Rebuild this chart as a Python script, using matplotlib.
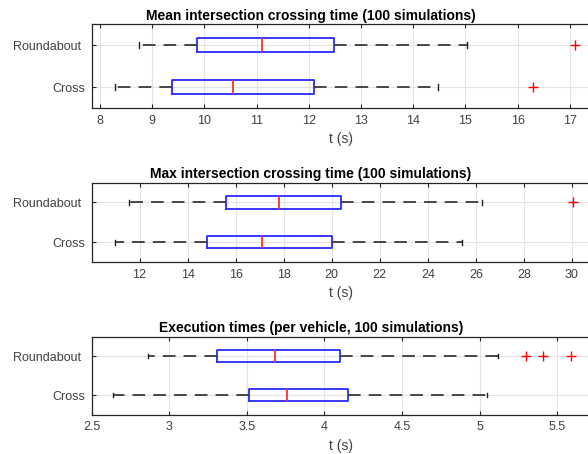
import matplotlib
matplotlib.use('Agg')  # no display
import matplotlib.pyplot as plt

plt.rcParams['font.family'] = ['Liberation Sans', 'DejaVu Sans']

LABELS = ['Cross', 'Roundabout ']

# five-number summaries: [whisker low, q1, median, q3, whisker high]
MEAN_CROSS = [8.29, 9.39, 10.55, 12.10, 14.48]
MEAN_ROUND = [8.74, 9.86, 11.10, 12.49, 15.03]
MEAN_OUT_CROSS = [16.30]
MEAN_OUT_ROUND = [17.09]

MAX_CROSS = [10.99, 14.79, 17.08, 20.00, 25.43]
MAX_ROUND = [11.58, 15.61, 17.81, 20.40, 26.27]
MAX_OUT_CROSS = []
MAX_OUT_ROUND = [30.05]

EXEC_CROSS = [2.64, 3.515, 3.76, 4.15, 5.05]
EXEC_ROUND = [2.865, 3.31, 3.68, 4.10, 5.12]
EXEC_OUT_CROSS = []
EXEC_OUT_ROUND = [5.30, 5.41, 5.59]

TITLES = ['Mean intersection crossing time (100 simulations)',
          'Max intersection crossing time (100 simulations)',
          'Execution times (per vehicle, 100 simulations)']
XLIMS = [(7.84, 17.5), (10, 31), (2.5, 5.75)]
XTICKS = [list(range(8, 18)), list(range(12, 31, 2)),
          [2.5, 3, 3.5, 4, 4.5, 5, 5.5]]
XTICKLABELS = [[str(t) for t in XTICKS[0]], [str(t) for t in XTICKS[1]],
               ['2.5', '3', '3.5', '4', '4.5', '5', '5.5']]

PANELS = [
    (MEAN_CROSS, MEAN_ROUND, MEAN_OUT_CROSS, MEAN_OUT_ROUND),
    (MAX_CROSS, MAX_ROUND, MAX_OUT_CROSS, MAX_OUT_ROUND),
    (EXEC_CROSS, EXEC_ROUND, EXEC_OUT_CROSS, EXEC_OUT_ROUND),
]

# axes boxes in pixels (left, top, right, bottom); right edge runs past the image
W, H = 588, 454
BOXES = [(91.5, 24.0, 596, 108.0), (91.5, 182.5, 596, 262.0), (91.5, 336.6, 596, 414.5)]

TXT = '#404040'


def make_stats(five, fliers, label):
    lo, q1, med, q3, hi = five
    return dict(whislo=lo, q1=q1, med=med, q3=q3, whishi=hi,
                fliers=fliers, label=label)


fig = plt.figure(figsize=(W / 100, H / 100), dpi=100)

for i, (cross, rnd, out_c, out_r) in enumerate(PANELS):
    l, t, r, b = BOXES[i]
    ax = fig.add_axes([l / W, 1 - b / H, (r - l) / W, (b - t) / H])
    stats = [make_stats(cross, out_c, LABELS[0]), make_stats(rnd, out_r, LABELS[1])]
    ax.bxp(stats, positions=[1, 2], orientation='horizontal', widths=0.32,
           capwidths=0.12, showfliers=True,
           boxprops=dict(color='#2a2aff', linewidth=1.3),
           medianprops=dict(color='#ff3030', linewidth=1.3),
           whiskerprops=dict(color='#3a3a3a', linewidth=1.3, linestyle=(0, (7, 4.5))),
           capprops=dict(color='#222222', linewidth=1.0),
           flierprops=dict(marker='+', markeredgecolor='red', markersize=7,
                           markeredgewidth=1.0, linestyle='none'))
    ax.set_xlim(*XLIMS[i])
    ax.set_ylim(0.5, 2.5)
    ax.set_xticks(XTICKS[i])
    ax.set_xticklabels(XTICKLABELS[i])
    ax.set_yticks([1, 2])
    ax.set_yticklabels(LABELS)
    ax.grid(True, color='#e3e3e3', linewidth=0.8)
    ax.set_axisbelow(True)
    ax.tick_params(direction='in', top=True, right=True, length=3, width=0.8,
                   colors='#262626', labelcolor=TXT, labelsize=9, pad=5)
    ax.tick_params(axis='y', pad=4.7)
    for s in ax.spines.values():
        s.set_color('#262626')
        s.set_linewidth(0.9)
    ax.set_xlabel('t (s)', fontsize=10, color=TXT, labelpad=4, x=0.4945)
    ax.set_title(TITLES[i], fontsize=10, fontweight='bold', pad=3, x=0.435)

fig.savefig('out.png', dpi=100)
